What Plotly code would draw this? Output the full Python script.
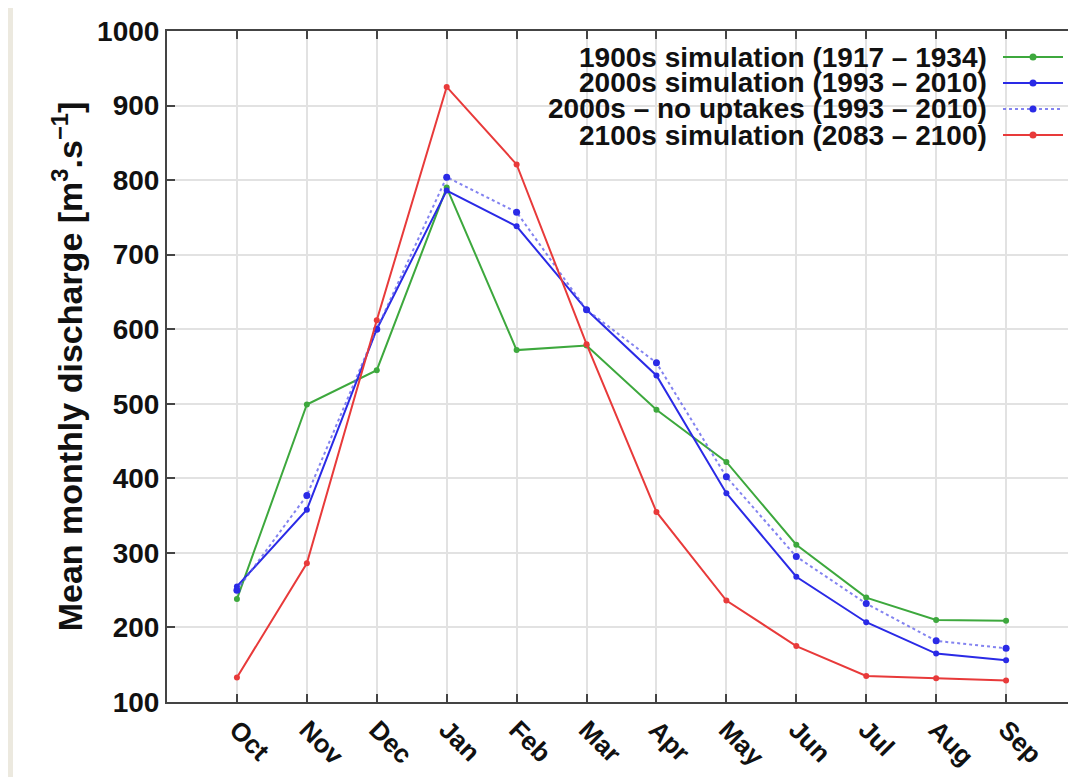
import plotly.graph_objects as go

months = ["Oct", "Nov", "Dec", "Jan", "Feb", "Mar", "Apr", "May", "Jun", "Jul", "Aug", "Sep"]
sim_1900s = [238, 499, 545, 790, 572, 578, 492, 422, 311, 240, 210, 209]
sim_2000s = [255, 358, 600, 786, 738, 626, 538, 380, 268, 207, 165, 156]
sim_2000s_no_uptakes = [250, 377, 600, 804, 757, 626, 555, 402, 295, 232, 182, 172]
sim_2100s = [133, 286, 612, 925, 821, 580, 355, 236, 175, 135, 132, 129]

names = [
    "1900s simulation (1917 – 1934)",
    "2000s simulation (1993 – 2010)",
    "2000s – no uptakes (1993 – 2010)",
    "2100s simulation (2083 – 2100)",
]
series = [sim_1900s, sim_2000s, sim_2000s_no_uptakes, sim_2100s]
colors = ["#3da83d", "#2a2ae6", "#2a2ae6", "#e83a3a"]
dashes = ["solid", "solid", "dot", "solid"]
line_colors = ["#3da83d", "#2a2ae6", "rgba(90,90,235,0.75)", "#e83a3a"]

FONT = "Liberation Sans, Arial, sans-serif"

fig = go.Figure()
xs = list(range(len(months)))
for name, ys, c, lc, d in zip(names, series, colors, line_colors, dashes):
    fig.add_trace(go.Scatter(
        x=xs, y=ys, name=name, mode="lines+markers",
        line=dict(color=lc, width=2, dash=d),
        marker=dict(color=c, size=6 if d == "solid" else 7, symbol="circle"),
        showlegend=False,
    ))

# the page body adds an 8px offset; figure is sized so the plot lands where the reference has it
OFF = 8
W, H = 1068, 769
L, R, T, B = 159, 0, 23, 75
pw, ph = W - L - R, H - T - B

def px(x):  # page pixel -> paper
    return (x - OFF - L) / pw

def py(y):
    return (H - B - (y - OFF)) / ph

annotations = []
shapes = []
rows_y = [57, 83, 109, 135]
for i, (name, c, lc, d) in enumerate(zip(names, colors, line_colors, dashes)):
    yy = py(rows_y[i])
    annotations.append(dict(
        x=px(989), y=yy, xref="paper", yref="paper", text=name, showarrow=False,
        xanchor="right", yanchor="middle",
        font=dict(family=FONT, size=28, color="#111", weight=700),
    ))
    shapes.append(dict(
        type="line", xref="paper", yref="paper", x0=px(1003), x1=px(1063), y0=yy, y1=yy,
        line=dict(color=lc, width=2, dash=d),
    ))
    shapes.append(dict(
        type="circle", xref="paper", yref="paper", xsizemode="pixel", ysizemode="pixel",
        xanchor=px(1033), yanchor=yy, x0=-3.5, x1=3.5, y0=-3.5, y1=3.5,
        fillcolor=c, line=dict(color=c, width=0),
    ))

# page decoration (left beige strip)
shapes.append(dict(type="rect", xref="paper", yref="paper", x0=-L / pw, x1=px(13),
                   y0=-B / ph, y1=1 + T / ph, fillcolor="#ece9df", line=dict(width=0), layer="below"))

fig.update_layout(
    width=W, height=H,
    margin=dict(l=L, r=R, t=T, b=B, autoexpand=False),
    paper_bgcolor="white", plot_bgcolor="white",
    font=dict(family=FONT, size=28, color="#111", weight=700),
    annotations=annotations, shapes=shapes,
    showlegend=False,
)
fig.update_xaxes(
    range=[-1, 12], tickmode="array", tickvals=xs, ticktext=months, tickangle=45,
    showgrid=True, gridcolor="#e2e2e2", gridwidth=1.5,
    showline=True, linecolor="#444", linewidth=2, mirror="ticks",
    ticks="inside", ticklen=8, tickcolor="#444", tickwidth=1.5,
    tickfont=dict(family=FONT, size=26, color="#111", weight=700),
    zeroline=False, automargin=False,
)
fig.update_yaxes(
    range=[100, 1000], dtick=100, tick0=100,
    showgrid=True, gridcolor="#e2e2e2", gridwidth=1.5,
    showline=True, linecolor="#444", linewidth=2, mirror="ticks",
    ticks="inside", ticklen=8, tickcolor="#444", tickwidth=1.5,
    tickfont=dict(family=FONT, size=28, color="#111", weight=700),
    title=dict(text="Mean monthly discharge [m<sup>3</sup>.s<sup>−1</sup>]",
               font=dict(family=FONT, size=34, color="#111", weight=700), standoff=4),
    zeroline=False, automargin=False,
)

fig.write_html("out.html")
